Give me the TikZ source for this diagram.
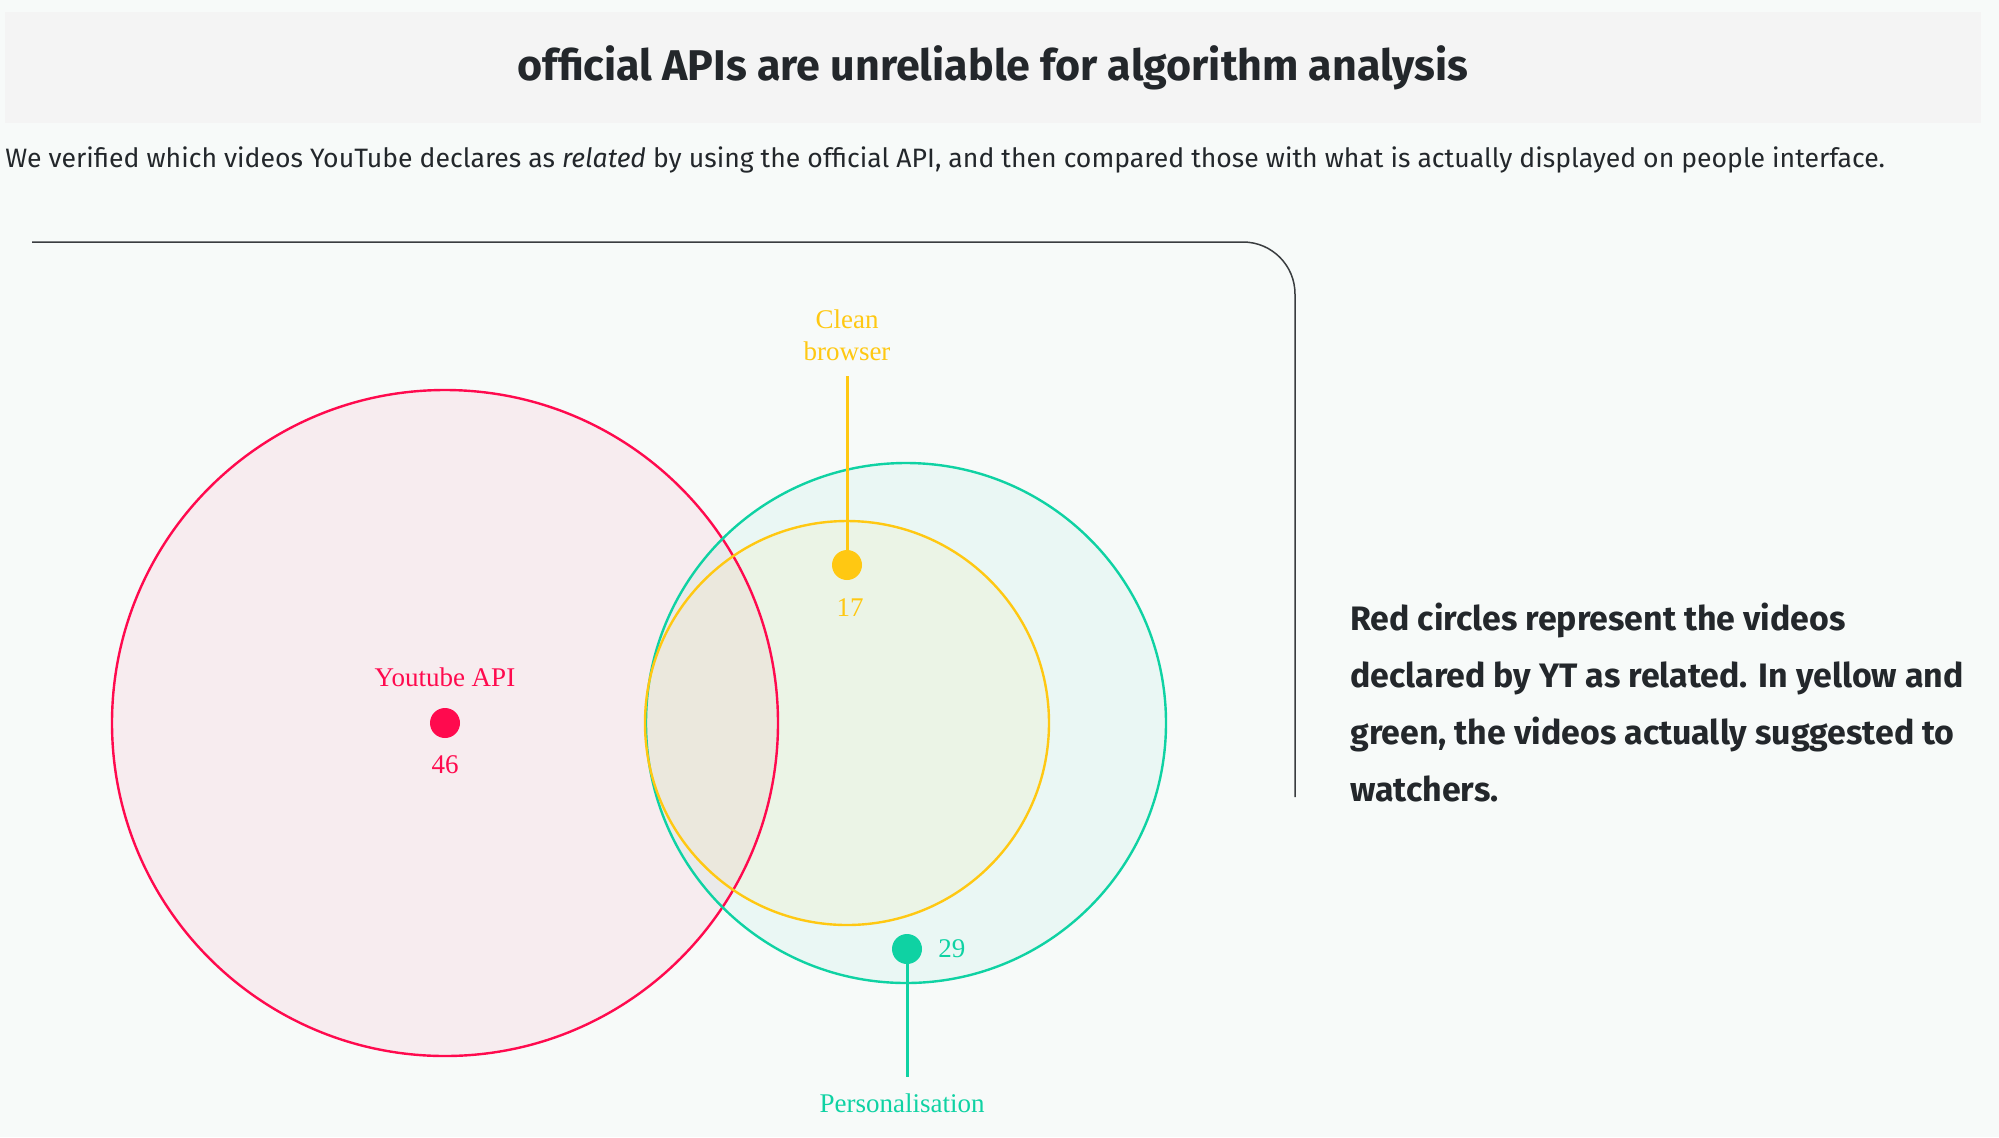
\documentclass[tikz,border=0pt]{standalone}
\usepackage{fontspec}
\setmainfont{Liberation Serif}
\newfontfamily\sansf{Fira Sans}
\definecolor{bgc}{HTML}{F7FAF9}
\definecolor{bandc}{HTML}{F4F4F4}
\definecolor{redc}{HTML}{FF0A4E}
\definecolor{greenc}{HTML}{0FD2A3}
\definecolor{yellowc}{HTML}{FFC812}
\definecolor{inkc}{HTML}{23272B}
\definecolor{framec}{HTML}{3A3D40}
\tikzset{
  titletext/.style={font=\sansf\bfseries\fontsize{21.5}{25}\selectfont, text=inkc, inner sep=0pt},
  subtext/.style={font=\sansf\fontsize{13.3}{15}\selectfont, text=inkc, inner sep=0pt},
  notetext/.style={font=\sansf\bfseries\fontsize{16.95}{28.5}\selectfont, text=inkc, inner sep=0pt, align=left},
  lbl/.style={font=\fontsize{13.5}{16}\selectfont, inner sep=0pt},
  dotc/.style={circle, inner sep=0pt, minimum size=15pt},
  setline/.style={line width=1.2pt},
}
\begin{document}
\begin{tikzpicture}[x=0.5pt,y=-0.5pt]
\fill[bgc] (0,0) rectangle (1999,1137);
\useasboundingbox (0,0) rectangle (1999,1137);
\fill[bandc] (5,12) rectangle (1981,123);
\node[titletext, anchor=base] (title) at (993,80) {official APIs are unreliable for algorithm analysis};
\node[subtext, anchor=base west] (sub) at (5,167) {We verified which videos YouTube declares as \textit{related} by using the official API, and then compared those with what is actually displayed on people interface.};
% frame
\coordinate (f1) at (32,242);
\coordinate (f2) at (1295,242);
\coordinate (f3) at (1295,797);
\draw[framec, line width=0.75pt, rounded corners=26pt] (f1) -- (f2) -- (f3);
% fills
\fill[redc, fill opacity=0.055] (445,723) circle[radius=333];
\fill[greenc, fill opacity=0.055] (906,723) circle[radius=260];
\fill[yellowc, fill opacity=0.06] (847,723) circle[radius=202];
% strokes
\draw[redc, setline] (445,723) circle[radius=333];
\draw[greenc, setline] (906,723) circle[radius=260];
\draw[yellowc, setline] (847,723) circle[radius=202];
% red set
\node[dotc, fill=redc] (rdot) at (445,723) {};
\node[lbl, text=redc, anchor=base] (rlbl) at (445,686) {Youtube API};
\node[lbl, text=redc, anchor=base] (rnum) at (445,773) {46};
% yellow set
\node[dotc, fill=yellowc] (ydot) at (847,565) {};
\node[lbl, text=yellowc, anchor=base] (ylbl1) at (847,328) {Clean};
\node[lbl, text=yellowc, anchor=base] (ylbl2) at (847,360) {browser};
\coordinate (ytop) at (847,376);
\draw[yellowc, line width=1.5pt] (ydot.center) -- (ytop);
\node[lbl, text=yellowc, anchor=base] (ynum) at (850,616) {17};
% green set
\node[dotc, fill=greenc] (gdot) at (907,949) {};
\coordinate (gbot) at (907,1077);
\draw[greenc, line width=1.5pt] (gdot.center) -- (gbot);
\node[lbl, text=greenc, anchor=base] (glbl) at (902,1112) {Personalisation};
\node[lbl, text=greenc, anchor=base west] (gnum) at (938,957) {29};
% note
\node[notetext, anchor=north west] (note) at (1350,603) {Red circles represent the videos\\declared by YT as related. In yellow and\\green, the videos actually suggested to\\watchers.};
\end{tikzpicture}
\end{document}
